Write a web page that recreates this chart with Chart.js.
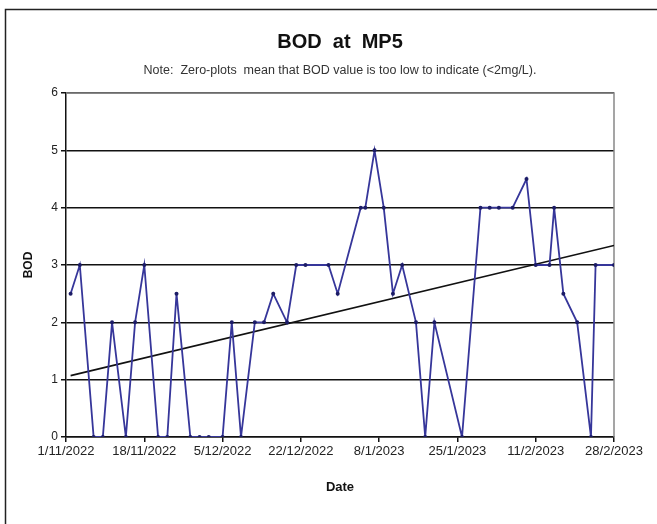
<!DOCTYPE html>
<html>
<head>
<meta charset="utf-8">
<title>BOD at MP5</title>
<script src="https://cdn.jsdelivr.net/npm/chart.js@4.4.1/dist/chart.umd.min.js"></script>
<style>
  html, body { margin: 0; padding: 0; background: #fff; }
  canvas { display: block; }
</style>
</head>
<body>
<canvas id="bodChart" width="657" height="524"></canvas>
<script>
// sampling dates (d/m/yyyy) and BOD readings
var sampleDates = [
  "2/11/2022", "4/11/2022", "7/11/2022", "9/11/2022", "11/11/2022", "14/11/2022",
  "16/11/2022", "18/11/2022", "21/11/2022", "23/11/2022", "25/11/2022", "28/11/2022",
  "30/11/2022", "2/12/2022", "5/12/2022", "7/12/2022", "9/12/2022", "12/12/2022",
  "14/12/2022", "16/12/2022", "19/12/2022", "21/12/2022", "23/12/2022", "28/12/2022",
  "30/12/2022", "4/1/2023", "5/1/2023", "7/1/2023", "9/1/2023", "11/1/2023",
  "13/1/2023", "16/1/2023", "18/1/2023", "20/1/2023", "26/1/2023", "30/1/2023",
  "1/2/2023", "3/2/2023", "6/2/2023", "9/2/2023", "11/2/2023", "14/2/2023",
  "15/2/2023", "17/2/2023", "20/2/2023", "23/2/2023", "24/2/2023", "28/2/2023"
];
var bodValues = [
  2.5, 3, 0, 0, 2, 0,
  2, 3, 0, 0, 2.5, 0,
  0, 0, 0, 2, 0, 2,
  2, 2.5, 2, 3, 3, 3,
  2.5, 4, 4, 5, 4, 2.5,
  3, 2, 0, 2, 0, 4,
  4, 4, 4, 4.5, 3, 3,
  4, 2.5, 2, 0, 3, 3
];
var axisStart = "1/11/2022";
var axisEnd = "28/2/2023";
var tickStepDays = 17;
var yMax = 6;

var DAY = 86400000;
function toUTC(s) {
  var p = s.split("/");
  return Date.UTC(+p[2], +p[1] - 1, +p[0]);
}
function dayOffset(s) {
  return Math.round((toUTC(s) - toUTC(axisStart)) / DAY);
}
function dayLabel(n) {
  var d = new Date(toUTC(axisStart) + n * DAY);
  return d.getUTCDate() + "/" + (d.getUTCMonth() + 1) + "/" + d.getUTCFullYear();
}

var points = sampleDates.map(function (s, i) {
  return { x: dayOffset(s), y: bodValues[i] };
});

// linear trendline (least squares), like the spreadsheet one
var n = points.length, sx = 0, sy = 0, sxx = 0, sxy = 0;
points.forEach(function (p) {
  sx += p.x; sy += p.y; sxx += p.x * p.x; sxy += p.x * p.y;
});
var slope = (n * sxy - sx * sy) / (n * sxx - sx * sx);
var intercept = (sy - slope * sx) / n;
var x0 = points[0].x, x1 = points[n - 1].x;
var trend = [
  { x: x0, y: intercept + slope * x0 },
  { x: x1, y: intercept + slope * x1 }
];

// outer frame and grey plot border
var framePlugin = {
  id: "frame",
  beforeDraw: function (chart) {
    var ctx = chart.ctx;
    ctx.save();
    ctx.fillStyle = "#fff";
    ctx.fillRect(0, 0, chart.width, chart.height);
    ctx.strokeStyle = "#222";
    ctx.lineWidth = 1.5;
    ctx.strokeRect(5.5, 9.5, 720, 600);
    ctx.restore();
  },
  beforeDatasetsDraw: function (chart) {
    var a = chart.chartArea, ctx = chart.ctx;
    ctx.save();
    ctx.strokeStyle = "#888";
    ctx.lineWidth = 1.5;
    ctx.beginPath();
    ctx.moveTo(a.left, a.top);
    ctx.lineTo(a.right, a.top);
    ctx.lineTo(a.right, a.bottom);
    ctx.stroke();
    ctx.restore();
  }
};

Chart.defaults.font.family = "'Liberation Sans', Arial, sans-serif";
Chart.defaults.color = "#222";

new Chart(document.getElementById("bodChart").getContext("2d"), {
  type: "line",
  data: {
    datasets: [
      {
        label: "BOD",
        data: points,
        borderColor: "#36369a",
        borderWidth: 1.8,
        pointRadius: 2,
        pointBackgroundColor: "#1c1c66",
        pointBorderWidth: 0,
        tension: 0
      },
      {
        label: "Trend",
        data: trend,
        borderColor: "#111",
        borderWidth: 1.6,
        pointRadius: 0,
        tension: 0
      }
    ]
  },
  options: {
    responsive: false,
    animation: false,
    layout: { padding: { left: 0, right: 43, top: 0, bottom: 0 } },
    plugins: {
      legend: { display: false },
      tooltip: { enabled: false },
      title: {
        display: true,
        text: "BOD  at  MP5",
        fullSize: false,
        color: "#111",
        font: { size: 20, weight: "bold" },
        padding: { top: 30, bottom: 8 }
      },
      subtitle: {
        display: true,
        text: "Note:  Zero-plots  mean that BOD value is too low to indicate (<2mg/L).",
        fullSize: false,
        color: "#333",
        font: { size: 12.5 },
        padding: { top: 1, bottom: 15 }
      }
    },
    scales: {
      x: {
        type: "linear",
        min: 0,
        max: dayOffset(axisEnd),
        afterFit: function (scale) { scale.height = 87; },
        ticks: {
          stepSize: tickStepDays,
          autoSkip: false,
          maxRotation: 0,
          padding: 2,
          font: { size: 13 },
          callback: function (v) { return dayLabel(v); }
        },
        grid: {
          drawOnChartArea: false,
          drawTicks: true,
          tickLength: 5,
          color: "#111",
          lineWidth: 1.5
        },
        border: { color: "#111", width: 1.5 },
        title: {
          display: true,
          text: "Date",
          color: "#111",
          font: { size: 13, weight: "bold" },
          padding: { top: 0, bottom: 29 }
        }
      },
      y: {
        min: 0,
        max: yMax,
        afterFit: function (scale) { scale.width = 66; },
        ticks: { stepSize: 1, padding: 3, font: { size: 12 } },
        grid: { color: "#111", lineWidth: 1.5, tickLength: 5 },
        border: { color: "#111", width: 1.5 },
        title: {
          display: true,
          text: "BOD",
          color: "#111",
          font: { size: 12, weight: "bold" },
          padding: { top: 21, bottom: 0 }
        }
      }
    }
  },
  plugins: [framePlugin]
});
</script>
</body>
</html>
